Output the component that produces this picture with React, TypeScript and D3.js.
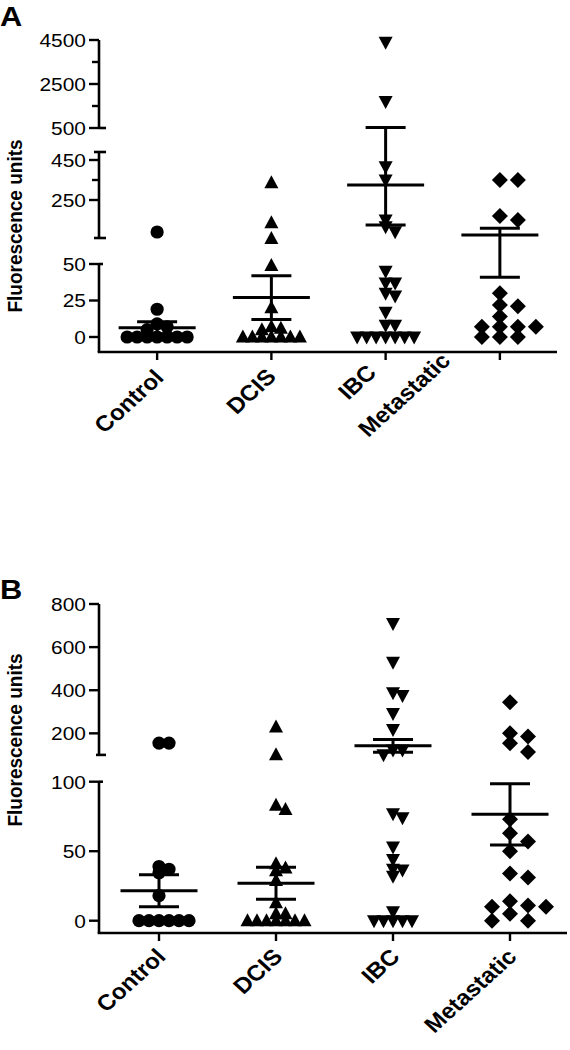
import React from 'react';
import * as d3 from 'd3';

const categories = ['Control', 'DCIS', 'IBC', 'Metastatic'];

// Panel A values (fluorescence units)
const controlA = [90, 19, 9, 7, 5, 0, 0, 0, 0, 0, 0, 0];
const dcisA = [336, 136, 58, 49, 20, 7, 6, 5, 0, 0, 0, 0, 0, 0, 0];
const ibcA = [4400, 1700, 416, 350, 150, 116, 91, 45, 37, 37, 30, 28, 17, 8, 8, 0, 0, 0, 0, 0, 0, 0];
const metA = [350, 350, 170, 150, 30, 22, 21, 14, 7, 7, 7, 7, 0, 0, 0];
const meanA = [6.3, 27, 325, 75];
const semA = [4.2, 15, 200, 34];

// Panel B values
const controlB = [155, 155, 39, 37, 34.5, 18, 0, 0, 0, 0, 0, 0];
const dcisB = [230, 101, 83, 80, 41, 38, 36, 29, 13, 5, 5, 0, 0, 0, 0, 0, 0, 0];
const ibcB = [710, 530, 388, 375, 292, 218, 123, 123, 101, 77, 74, 53, 44, 37, 36.5, 32, 6.5, 0, 0, 0, 0, 0];
const metB = [344, 200, 185, 154, 114, 73, 63, 57, 50, 34, 31, 14, 11, 10, 10, 5, 0, 0];
const meanB = [21.6, 27, 142, 76.5];
const semB = [11.5, 11.5, 30, 22];

// Tick labels
const ticksATop = [4500, 2500, 500];
const minorATop = [3500, 1500];
const ticksAMid = [450, 250];
const minorAMid = [350];
const ticksALow = [50, 25, 0];
const ticksBUp = [800, 600, 400, 200];
const ticksBLow = [100, 50, 0];

const FONT = '"Liberation Sans", Arial, Helvetica, sans-serif';
const SX = 1.1;
const AXX = 99;

type Shape = 'circle' | 'up' | 'down' | 'diamond';
const shapes: Shape[] = ['circle', 'up', 'down', 'diamond'];
const spreadX: Record<Shape, number> = { circle: 10, up: 9.5, down: 9.5, diamond: 18 };
const spreadY: Record<Shape, number> = { circle: 6, up: 6, down: 6, diamond: 9 };

// row-based swarm: points closer than sy vertically are pushed apart by sx
function swarm(ys: number[], sx: number, sy: number): number[] {
  const xs: number[] = [];
  ys.forEach((y, i) => {
    const near: number[] = [];
    for (let j = 0; j < i; j++) if (Math.abs(y - ys[j]) < sy) near.push(xs[j]);
    const cands = [0];
    near.forEach((xj) => cands.push(xj - sx, xj + sx));
    let best = Infinity;
    for (const c of cands) {
      if (near.every((xj) => Math.abs(c - xj) >= sx - 1e-6)) {
        if (Math.abs(c) < Math.abs(best) - 1e-6 || (Math.abs(Math.abs(c) - Math.abs(best)) < 1e-6 && c > best)) best = c;
      }
    }
    xs.push(best);
  });
  return xs;
}

function marker(shape: Shape, x: number, y: number, k: string) {
  if (shape === 'circle') return <circle key={k} cx={x} cy={y} r={6.6} fill="#000" />;
  if (shape === 'up') return <path key={k} d={`M${x},${y - 7.5}L${x + 7},${y + 5.5}L${x - 7},${y + 5.5}Z`} fill="#000" />;
  if (shape === 'down') return <path key={k} d={`M${x - 7},${y - 5.5}L${x + 7},${y - 5.5}L${x},${y + 7.5}Z`} fill="#000" />;
  return <path key={k} d={`M${x},${y - 8}L${x + 8},${y}L${x},${y + 8}L${x - 8},${y}Z`} fill="#000" />;
}

function TickLabel({ y, t }: { y: number; t: number }) {
  return (
    <text transform={`translate(86,${y}) scale(${SX},1)`} textAnchor="end" dy="0.36em" fontSize={19} fontFamily={FONT}>
      {t}
    </text>
  );
}

function Panel({ groups, means, sems, yf, x, axisY, axisEnd, segs, letter, letterY, labelY, labDx, labDy }: any) {
  const els: any[] = [];
  groups.forEach((vals: number[], gi: number) => {
    const sh = shapes[gi];
    const ys = vals.map((v) => yf(v));
    const xs = swarm(ys, spreadX[sh], spreadY[sh]);
    const cx = x(categories[gi]);
    vals.forEach((v, i) => els.push(marker(sh, cx + xs[i], ys[i], `p${gi}-${i}`)));
  });
  means.forEach((m: number, gi: number) => {
    const cx = x(categories[gi]);
    const ym = yf(m);
    const yt = yf(m + sems[gi]);
    const yb = yf(Math.max(m - sems[gi], 0));
    els.push(<line key={`v${gi}`} x1={cx} x2={cx} y1={yt} y2={yb} stroke="#000" strokeWidth={3} />);
    els.push(<line key={`m${gi}`} x1={cx - 38.5} x2={cx + 38.5} y1={ym} y2={ym} stroke="#000" strokeWidth={3} />);
    els.push(<line key={`t${gi}`} x1={cx - 20} x2={cx + 20} y1={yt} y2={yt} stroke="#000" strokeWidth={3} />);
    els.push(<line key={`b${gi}`} x1={cx - 20} x2={cx + 20} y1={yb} y2={yb} stroke="#000" strokeWidth={3} />);
  });
  const axis: any[] = [];
  segs.forEach((s: any, si: number) => {
    axis.push(<line key={`sl${si}`} x1={AXX} x2={AXX} y1={s.y0} y2={s.y1} stroke="#000" strokeWidth={2.6} />);
    s.ticks.forEach((t: number) => {
      const yy = s.scale(t);
      axis.push(<line key={`tk${si}-${t}`} x1={AXX - 10} x2={AXX} y1={yy} y2={yy} stroke="#000" strokeWidth={2.4} />);
      axis.push(<TickLabel key={`tl${si}-${t}`} y={yy} t={t} />);
    });
    (s.minor || []).forEach((t: number) => {
      const yy = s.scale(t);
      axis.push(<line key={`mn${si}-${t}`} x1={AXX - 7} x2={AXX} y1={yy} y2={yy} stroke="#000" strokeWidth={2.4} />);
    });
    (s.caps || []).forEach((c: any, ci: number) => {
      axis.push(<line key={`cp${si}-${ci}`} x1={AXX - c[1]} x2={AXX + c[2]} y1={c[0]} y2={c[0]} stroke="#000" strokeWidth={2.6} />);
    });
  });
  axis.push(<line key="xa" x1={AXX - 1.3} x2={axisEnd} y1={axisY} y2={axisY} stroke="#000" strokeWidth={2.6} />);
  categories.forEach((c, ci) => {
    const cx = x(c);
    axis.push(<line key={`xt${c}`} x1={cx} x2={cx} y1={axisY} y2={axisY + 8} stroke="#000" strokeWidth={2.4} />);
    axis.push(
      <text key={`xl${c}`} transform={`translate(${cx + labDx[ci]},${axisY + labDy[ci]}) scale(${SX},1) rotate(-45)`} textAnchor="end" fontSize={22} fontWeight="bold" fontFamily={FONT}>
        {c}
      </text>
    );
  });
  return (
    <g>
      <text transform={`translate(0,${letterY}) scale(${SX},1)`} fontSize={28} fontWeight="bold" fontFamily={FONT}>{letter}</text>
      <text transform={`translate(22,${labelY}) scale(${SX},1) rotate(-90)`} textAnchor="middle" fontSize={19} fontWeight="bold" fontFamily={FONT}>
        Fluorescence units
      </text>
      {els}
      {axis}
    </g>
  );
}

export default function App() {
  // Panel A broken axis
  const aTop = d3.scaleLinear().domain([500, 4500]).range([128, 40]);
  const aMid = d3.scaleLinear().domain([50, 500]).range([240, 150]);
  const aLow = d3.scaleLinear().domain([0, 50]).range([337, 264]);
  const axisYA = 352;
  const yA = (v: number) => (v >= 495 ? aTop(v) : v >= 50 ? aMid(v) : aLow(v));
  const xA = d3.scalePoint<string>().domain(categories).range([100, 557]).padding(0.5);
  const segsA = [
    { scale: aTop, y0: aTop(4500), y1: aTop(500), ticks: ticksATop, minor: minorATop, caps: [[aTop(500), 0, 7]] },
    { scale: aMid, y0: aMid(490), y1: aMid(60), ticks: ticksAMid, minor: minorAMid, caps: [[aMid(490), 5, 7], [aMid(60), 5, 7]] },
    { scale: aLow, y0: aLow(50), y1: axisYA, ticks: ticksALow, caps: [[aLow(50), 0, 4]] },
  ];

  // Panel B broken axis
  const bUp = d3.scaleLinear().domain([100, 800]).range([754.9, 604]);
  const bLow = d3.scaleLinear().domain([0, 100]).range([920.7, 781.7]);
  const axisYB = 933;
  const yB = (v: number) => (v > 100 ? bUp(v) : bLow(v));
  const xB = d3.scalePoint<string>().domain(categories).range([100.5, 568.5]).padding(0.5);
  const segsB = [
    { scale: bUp, y0: bUp(800), y1: bUp(100), ticks: ticksBUp, caps: [[bUp(100), 3, 7]] },
    { scale: bLow, y0: bLow(100), y1: axisYB, ticks: ticksBLow, caps: [[bLow(100), 0, 4]] },
  ];

  return (
    <svg width={570} height={1050} style={{ position: 'absolute', left: 0, top: 0, background: '#fff' }}>
      <rect x={0} y={0} width={570} height={1050} fill="#fff" />
      <Panel groups={[controlA, dcisA, ibcA, metA]} means={meanA} sems={semA} yf={yA} x={xA} axisY={axisYA} axisEnd={557} segs={segsA} letter="A" letterY={26} labelY={226} labDx={[8, 6, -8, -48]} labDy={[27, 26, 22, 10]} />
      <Panel groups={[controlB, dcisB, ibcB, metB]} means={meanB} sems={semB} yf={yB} x={xB} axisY={axisYB} axisEnd={567} segs={segsB} letter="B" letterY={599} labelY={740} labDx={[8, 8, 8, 8]} labDy={[25, 25, 25, 25]} />
    </svg>
  );
}
